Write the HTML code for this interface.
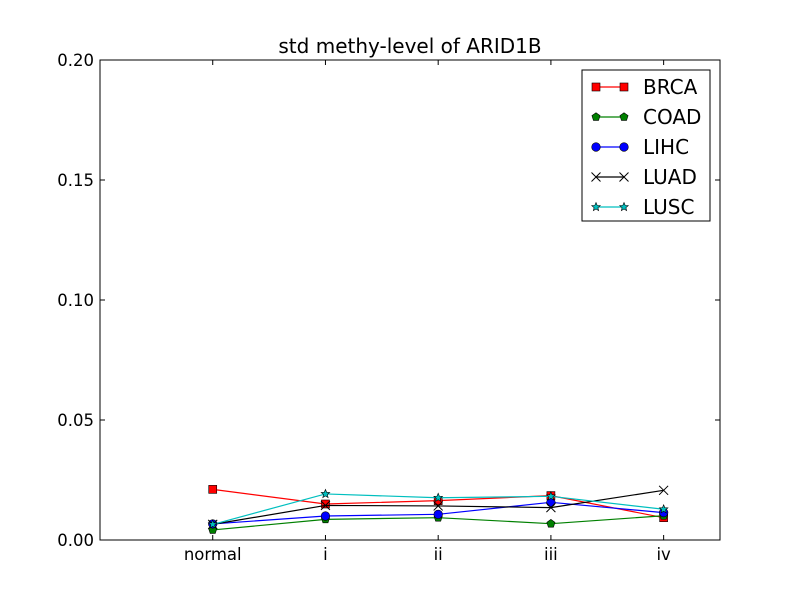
<!DOCTYPE html>
<html><head><meta charset="utf-8"><style>body{margin:0;background:#fff}svg{font-family:"DejaVu Sans","Liberation Sans",sans-serif}</style></head>
<body>
<svg id="c" width="800" height="600" xmlns="http://www.w3.org/2000/svg">
<rect width="800" height="600" fill="#fff"/>
<text x="410" y="53" font-size="20" text-anchor="middle">std methy-level of ARID1B</text>
<g id="ticks"></g>
<g id="series"></g>
<rect x="100" y="60" width="620" height="480" fill="none" stroke="#000" stroke-width="1"/>
<g id="legend"></g>
</svg>
<script>
const categories = ["normal","i","ii","iii","iv"];
const yTicks = [0,0.05,0.10,0.15,0.20];
const yTickLabels = ["0.00","0.05","0.10","0.15","0.20"];
const seriesNames = ["BRCA","COAD","LIHC","LUAD","LUSC"];
const brca = [0.0211,0.0150,0.0164,0.0185,0.0093];
const coad = [0.0042,0.0086,0.0093,0.0068,0.0101];
const lihc = [0.0067,0.0100,0.0107,0.0157,0.0114];
const luad = [0.0065,0.0144,0.0142,0.0135,0.0207];
const lusc = [0.0065,0.0192,0.0176,0.0182,0.0128];
const colors = ["#ff0000","#008000","#0000ff","#000000","#00bfbf"];
const markers = ["square","pentagon","circle","x","star"];
const allSeries = [brca,coad,lihc,luad,lusc];
const NS="http://www.w3.org/2000/svg";
function xs(i){return 100+(i+1)/5.5*620;}
function ys(v){return 540-v/0.2*480;}
function mk(tag,attrs,parent){const e=document.createElementNS(NS,tag);for(const k in attrs)e.setAttribute(k,attrs[k]);parent.appendChild(e);return e;}
const tg=document.getElementById('ticks');
yTicks.forEach((t,i)=>{const y=ys(t);
 const l=mk('path',{d:`M100 ${y}h5M720 ${y}h-5`,stroke:'#000'},tg);
 
 
 const tx=mk('text',{x:94,y:y+6,'font-size':16.5,'text-anchor':'end'},tg);tx.textContent=yTickLabels[i];
 
 
});
categories.forEach((c,i)=>{const x=xs(i);
 const l=mk('path',{d:`M${x} 540v-5M${x} 60v5`,stroke:'#000'},tg);
 
 
 const tx=mk('text',{x:x,y:560,'font-size':16.5,'text-anchor':'middle'},tg);tx.textContent=c;
 
 
});
function marker(type,x,y,color,parent){
 let e;
 if(type==='square')e=mk('rect',{x:x-4,y:y-4,width:8,height:8,fill:color,stroke:'#000','stroke-width':0.6},parent);
 else if(type==='circle')e=mk('circle',{cx:x,cy:y,r:4.3,fill:color,stroke:'#000','stroke-width':0.6},parent);
 else if(type==='x')e=mk('path',{d:`M${x-4.5} ${y-4.5}L${x+4.5} ${y+4.5}M${x-4.5} ${y+4.5}L${x+4.5} ${y-4.5}`,stroke:color,'stroke-width':1},parent);
 else{const n=type==='star'?10:5;let p=[];for(let k=0;k<n;k++){const r=type==='star'?(k%2?2:4.5):4.3;const a=-Math.PI/2+k*2*Math.PI/n;p.push((x+r*Math.cos(a)).toFixed(2)+','+(y+r*Math.sin(a)).toFixed(2));}
  e=mk('polygon',{points:p.join(' '),fill:color,stroke:'#000','stroke-width':0.6},parent);}
 return e;
}
const sg=document.getElementById('series');
allSeries.forEach((vals,s)=>{
 const g=mk('g',{},sg);
 
 
 const pl=mk('polyline',{points:vals.map((v,i)=>xs(i)+','+ys(v)).join(' '),fill:'none',stroke:colors[s],'stroke-width':1.2},g);
 
 
 vals.forEach((v,i)=>{const m=marker(markers[s],xs(i),ys(v),colors[s],g);
  
  });
});
const lg=document.getElementById('legend');
const box=mk('rect',{x:582,y:70,width:128,height:151,fill:'#fff',stroke:'#000'},lg);


seriesNames.forEach((n,s)=>{const y=87+s*30;
 const g=mk('g',{},lg);
 
 
 mk('line',{x1:596,y1:y,x2:624,y2:y,stroke:colors[s],'stroke-width':1.2},g);
 marker(markers[s],596,y,colors[s],g);marker(markers[s],624,y,colors[s],g);
 const t=mk('text',{x:643,y:y+7,'font-size':20},g);t.textContent=n;
});
</script>
</body></html>
